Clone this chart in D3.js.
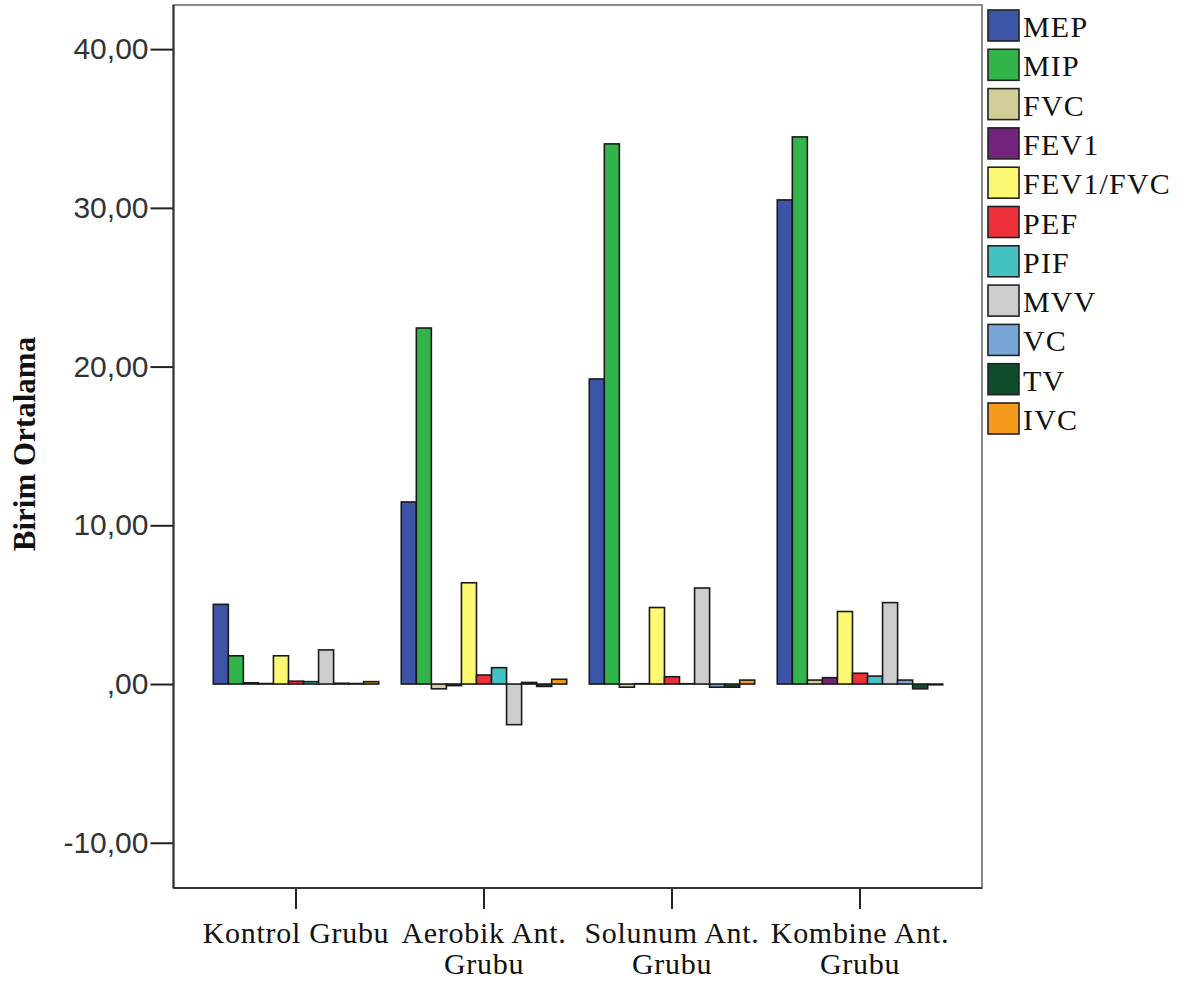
<!DOCTYPE html>
<html>
<head>
<meta charset="utf-8">
<script src="https://cdn.jsdelivr.net/npm/d3@7"></script>
<style>
  html, body { margin: 0; padding: 0; background: #fff; }
  svg { display: block; }
</style>
</head>
<body>
<svg id="chart" width="1197" height="986"></svg>
<script>
// ---- data ----
const categories = ["Kontrol Grubu", "Aerobik Ant. Grubu", "Solunum Ant. Grubu", "Kombine Ant. Grubu"];
const categoryLines = [["Kontrol Grubu"], ["Aerobik Ant.", "Grubu"], ["Solunum Ant.", "Grubu"], ["Kombine Ant.", "Grubu"]];
const seriesNames = ["MEP", "MIP", "FVC", "FEV1", "FEV1/FVC", "PEF", "PIF", "MVV", "VC", "TV", "IVC"];
const seriesColors = ["#3d55a6", "#31b449", "#d3ce98", "#74237d", "#fcf872", "#ee3038", "#43c1c3", "#cdcdcd", "#78a6d6", "#0e4d2b", "#f59a1d"];
const MEP      = [5.02, 11.47, 19.22, 30.5];
const MIP      = [1.78, 22.43, 34.03, 34.47];
const FVC      = [0.08, -0.3, -0.2, 0.25];
const FEV1     = [0.03, -0.1, 0.02, 0.4];
const FEV1_FVC = [1.78, 6.38, 4.82, 4.57];
const PEF      = [0.18, 0.57, 0.46, 0.68];
const PIF      = [0.15, 1.03, 0.02, 0.5];
const MVV      = [2.15, -2.56, 6.05, 5.13];
const VC       = [0.05, 0.1, -0.2, 0.25];
const TV       = [0.03, -0.15, -0.2, -0.3];
const IVC      = [0.15, 0.3, 0.25, -0.05];
const seriesValues = [MEP, MIP, FVC, FEV1, FEV1_FVC, PEF, PIF, MVV, VC, TV, IVC];
const yTicks = [-10, 0, 10, 20, 30, 40];
const yTitle = "Birim Ortalama";

// ---- layout ----
const svg = d3.select("#chart");
const frame = {left: 173.5, right: 982, top: 5, bottom: 888};

const y = d3.scaleLinear().domain([-12.85, 42.78]).range([frame.bottom, frame.top]);
const x0 = d3.scaleBand().domain(categories).range([202, 954]).paddingInner(0.12).paddingOuter(0.06);
const x1 = d3.scaleBand().domain(seriesNames).range([0, x0.bandwidth()]);

const fmt = v => {
  const s = d3.format(".2f")(Math.abs(v)).replace(".", ",");
  const t = s.startsWith("0,") ? s.slice(1) : s;
  return (v < 0 ? "-" : "") + t;
};

// plot frame
svg.append("rect")
  .attr("x", frame.left).attr("y", frame.top)
  .attr("width", frame.right - frame.left).attr("height", frame.bottom - frame.top)
  .attr("fill", "#fff").attr("stroke", "#8a8a8a").attr("stroke-width", 2);

// bars
const groups = svg.append("g").selectAll("g")
  .data(categories).join("g")
  .attr("transform", d => `translate(${x0(d)},0)`);

groups.selectAll("rect")
  .data((c, ci) => seriesNames.map((s, si) => ({s, si, v: seriesValues[si][ci]})))
  .join("rect")
  .attr("x", d => x1(d.s))
  .attr("width", x1.bandwidth())
  .attr("y", d => y(Math.max(0, d.v)))
  .attr("height", d => Math.abs(y(d.v) - y(0)))
  .attr("fill", d => seriesColors[d.si])
  .attr("stroke", "#1a1a1a")
  .attr("stroke-width", 1.6);

// y axis
const yAxis = d3.axisLeft(y).tickValues(yTicks).tickFormat(fmt).tickSize(23).tickPadding(2);
const gy = svg.append("g").attr("transform", `translate(${frame.left},0)`).call(yAxis);
gy.select(".domain").remove();
gy.selectAll(".tick line").attr("stroke", "#222").attr("stroke-width", 2);
gy.selectAll(".tick text")
  .attr("font-family", "'Liberation Sans', Arial, sans-serif")
  .attr("font-size", 30).attr("fill", "#333");

// x axis
const xAxis = d3.axisBottom(x0).tickSize(21).tickFormat("");
const gx = svg.append("g").attr("transform", `translate(0,${frame.bottom})`).call(xAxis);
gx.select(".domain").remove();
gx.selectAll(".tick line").attr("stroke", "#222").attr("stroke-width", 2);

// left & bottom frame lines darker
svg.append("line").attr("x1", frame.left).attr("x2", frame.left).attr("y1", frame.top).attr("y2", frame.bottom)
  .attr("stroke", "#333").attr("stroke-width", 2);
svg.append("line").attr("x1", frame.left).attr("x2", frame.right).attr("y1", frame.bottom).attr("y2", frame.bottom)
  .attr("stroke", "#333").attr("stroke-width", 2);

// x labels (each line as its own text)
const xl = svg.append("g");
categories.forEach((c, i) => {
  const cx = x0(c) + x0.bandwidth() / 2;
  categoryLines[i].forEach((line, li) => {
    xl.append("text")
      .attr("x", cx).attr("y", 943 + li * 31)
      .attr("text-anchor", "middle")
      .attr("font-family", "'Liberation Serif', 'Times New Roman', serif")
      .attr("font-size", 30).attr("letter-spacing", 0.7).attr("fill", "#111")
      .text(line);
  });
});

// y title
svg.append("text")
  .attr("transform", `translate(35,444) rotate(-90)`)
  .attr("text-anchor", "middle")
  .attr("font-family", "'Liberation Serif', 'Times New Roman', serif")
  .attr("font-weight", "bold")
  .attr("font-size", 31).attr("fill", "#111")
  .text(yTitle);

// legend
const lg = svg.append("g").attr("transform", "translate(988,10)");
const item = lg.selectAll("g").data(seriesNames).join("g")
  .attr("transform", (d, i) => `translate(0,${i * 39.3})`);
item.append("rect")
  .attr("x", 0).attr("y", 0).attr("width", 31).attr("height", 31)
  .attr("fill", (d, i) => seriesColors[i])
  .attr("stroke", "#222").attr("stroke-width", 1.6);
item.append("text")
  .attr("x", 35).attr("y", 27)
  .attr("font-family", "'Liberation Serif', 'Times New Roman', serif")
  .attr("font-size", 30).attr("letter-spacing", 1.2).attr("fill", "#111")
  .text(d => d);
</script>
</body>
</html>
